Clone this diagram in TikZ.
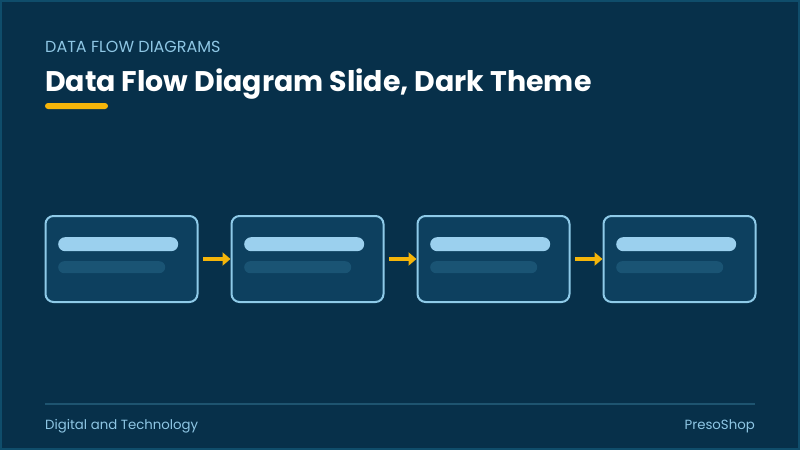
\documentclass[tikz,border=0pt]{standalone}
\usepackage{fontspec}
\setmainfont{Poppins}
\usetikzlibrary{arrows.meta}

\definecolor{slidebg}{HTML}{07304A}
\definecolor{slideedge}{HTML}{0F4D6B}
\definecolor{boxfill}{HTML}{0D405F}
\definecolor{boxline}{HTML}{8ECAE8}
\definecolor{barlight}{HTML}{9BD0EE}
\definecolor{bardark}{HTML}{1A5474}
\definecolor{accent}{HTML}{F5B50A}
\definecolor{kicker}{HTML}{8EC6E4}
\definecolor{rulecol}{HTML}{1E5470}

\tikzset{
  flowbox/.style={draw=boxline, line width=2pt, fill=boxfill, rounded corners=8pt,
    minimum width=152pt, minimum height=86pt, inner sep=0pt},
  topbar/.style={fill=barlight, rounded corners=7pt, minimum width=120pt,
    minimum height=14pt, inner sep=0pt},
  subbar/.style={fill=bardark, rounded corners=6pt, minimum width=107pt,
    minimum height=12pt, inner sep=0pt},
  flowarrow/.style={draw=accent, line width=3.5pt, shorten <=4.5pt,
    -{Triangle[length=8pt,width=13pt]}},
  footnote/.style={text=kicker, font=\fontsize{13.3}{15}\selectfont, inner sep=0pt}
}

\begin{document}
\begin{tikzpicture}[x=1pt,y=-1pt]
\useasboundingbox (0,0) rectangle (800,450);
% slide background
\fill[slidebg] (0,0) rectangle (800,450);
\draw[slideedge, line width=2pt] (1,1) rectangle (799,449);

% heading
\node[anchor=base west, inner sep=0pt, text=kicker, font=\fontsize{16}{18}\selectfont] (kicker) at (45,52) {DATA FLOW DIAGRAMS};
\node[anchor=base west, inner sep=0pt, text=white, font=\fontsize{28.4}{32}\selectfont\bfseries] (title) at (45,91) {Data Flow Diagram Slide, Dark Theme};
\fill[accent, rounded corners=3pt] (45,103) rectangle (108,109);

% process boxes
\node[flowbox] (box1) at (121.5,259) {};
\node[flowbox] (box2) at (307.5,259) {};
\node[flowbox] (box3) at (493.5,259) {};
\node[flowbox] (box4) at (679.5,259) {};

% placeholder bars
\node[topbar, anchor=north west] (bar1a) at (58,237) {};
\node[subbar, anchor=north west] (bar1b) at (58,261) {};
\node[topbar, anchor=north west] (bar2a) at (244,237) {};
\node[subbar, anchor=north west] (bar2b) at (244,261) {};
\node[topbar, anchor=north west] (bar3a) at (430,237) {};
\node[subbar, anchor=north west] (bar3b) at (430,261) {};
\node[topbar, anchor=north west] (bar4a) at (616,237) {};
\node[subbar, anchor=north west] (bar4b) at (616,261) {};

% flow arrows
\draw[flowarrow] (box1.east) -- (box2.west);
\draw[flowarrow] (box2.east) -- (box3.west);
\draw[flowarrow] (box3.east) -- (box4.west);

% footer
\draw[rulecol, line width=1.5pt] (45,404) -- (755,404);
\node[footnote, anchor=base west] (topic) at (45,429) {Digital and Technology};
\node[footnote, anchor=base east] (brand) at (755,429) {PresoShop};

\end{tikzpicture}
\end{document}
